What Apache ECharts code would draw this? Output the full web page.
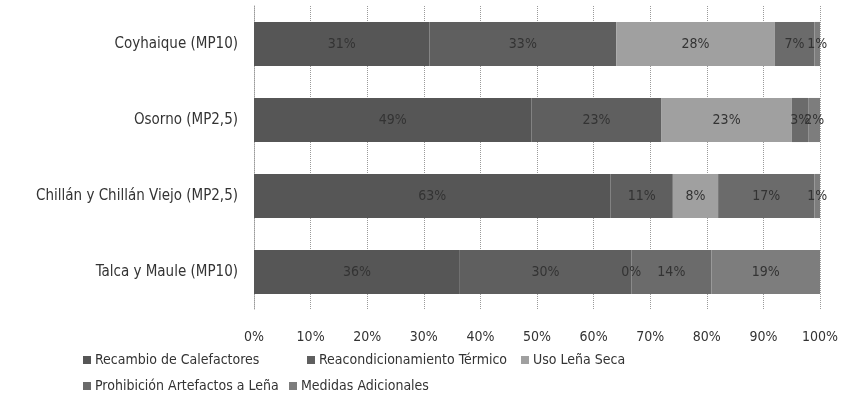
<!DOCTYPE html>
<html><head><meta charset="utf-8">
<script src="https://cdn.jsdelivr.net/npm/echarts@6/dist/echarts.min.js"></script>
<style>html,body{margin:0;padding:0;background:#fff}#c{width:841px;height:415px}</style>
</head><body><div id="c"></div>
<script>
const categories = ["Coyhaique (MP10)", "Osorno (MP2,5)", "Chillán y Chillán Viejo (MP2,5)", "Talca y Maule (MP10)"];
const seriesNames = ["Recambio de Calefactores", "Reacondicionamiento Térmico", "Uso Leña Seca", "Prohibición Artefactos a Leña", "Medidas Adicionales"];
const recambio = [31, 49, 63, 36];
const reacond = [33, 23, 11, 30];
const usoLena = [28, 23, 8, 0];
const prohibicion = [7, 3, 17, 14];
const medidas = [1, 2, 1, 19];
const tickLabels = ["0%", "10%", "20%", "30%", "40%", "50%", "60%", "70%", "80%", "90%", "100%"];
const colors = ["#565656", "#5f5f5f", "#a0a0a0", "#6b6b6b", "#7d7d7d"];

const FONT = '"Liberation Sans Narrow", "DejaVu Sans Condensed", "Liberation Sans", sans-serif';
const values = [recambio, reacond, usoLena, prohibicion, medidas];
// 100% stacked: normalise each category to its total (labels keep the raw value)
const totals = categories.map((_, j) => values.reduce((s, arr) => s + arr[j], 0));
const chart = echarts.init(document.getElementById('c'));

const legendPos = [[78, 348], [302, 348], [516, 348], [78, 374], [284, 374]];
const legends = seriesNames.map((n, i) => ({
  data: [n], left: legendPos[i][0], top: legendPos[i][1],
  icon: 'rect', itemWidth: 8, itemHeight: 8, itemGap: 4,
  textStyle: {fontFamily: FONT, fontSize: 14, color: '#333', padding: [0,0,0,-1]}
}));

chart.setOption({
  animation: false,
  backgroundColor: '#fff',
  color: colors,
  legend: legends,
  grid: {left: 254, right: 21, top: 6, bottom: 105},
  xAxis: {
    type: 'value', min: 0, max: 100, interval: 10,
    axisLabel: {formatter: v => tickLabels[Math.round(v/10)], fontFamily: FONT, fontSize: 14, color: '#333', margin: 20},
    axisLine: {show: false}, axisTick: {show: false},
    splitLine: {show: true, lineStyle: {type: 'dotted', color: '#9a9a9a', width: 1}}
  },
  yAxis: {
    type: 'category', data: categories, inverse: true,
    axisLabel: {fontFamily: FONT, fontSize: 15, color: '#333', margin: 16},
    axisLine: {show: true, lineStyle: {type: 'dotted', color: '#9a9a9a'}},
    axisTick: {show: false}
  },
  series: seriesNames.map((n, i) => ({
    name: n, type: 'bar', stack: 'total', barWidth: '58%',
    data: values[i].map((v, j) => ({value: v / totals[j] * 100, raw: v})),
    label: {show: true, position: 'inside', formatter: p => p.data.raw + '%', fontFamily: FONT, fontSize: 14, color: '#333'},
    itemStyle: {color: colors[i]}
  }))
});
</script></body></html>
